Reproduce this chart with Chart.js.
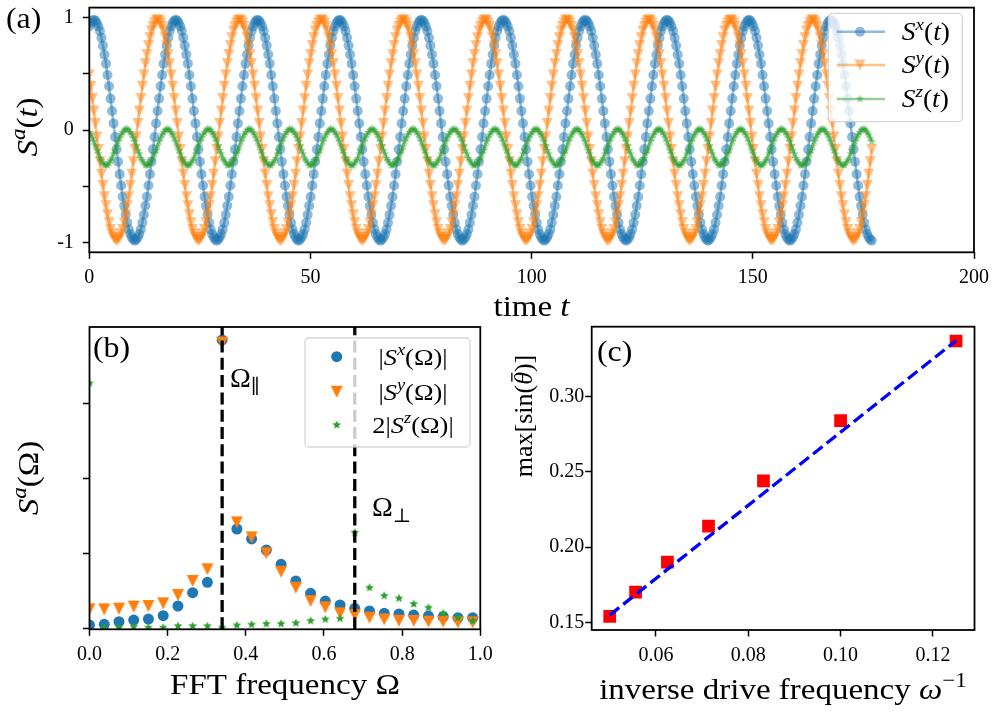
<!DOCTYPE html>
<html>
<head>
<meta charset="utf-8">
<title>Spin dynamics</title>
<script src="https://cdn.jsdelivr.net/npm/chart.js@4.4.1/dist/chart.umd.min.js"></script>
<style>
  html, body { margin: 0; padding: 0; background: #fff; }
  #fig { position: relative; width: 995px; height: 713px; }
  #fig canvas { position: absolute; left: 0; top: 0; }
</style>
</head>
<body>
<div id="fig">
  <canvas id="chartA" width="995" height="713"></canvas>
  <canvas id="chartB" width="995" height="713"></canvas>
  <canvas id="chartC" width="995" height="713"></canvas>
</div>
<script>
// (a) spin components S^a(t), one sample every DT time units
const DT = 0.3428;
const SX = [
0.92,0.95,0.97,0.98,0.97,0.95,0.92,0.88,0.82,0.75,0.67,0.59,0.49,0.39,0.28,0.17,0.06,-0.06,-0.17,-0.28,-0.39,-0.49,-0.59,-0.67,-0.75,-0.82,-0.88,-0.92,-0.95,-0.97,-0.98,-0.97,-0.95,-0.92,-0.88,-0.82,-0.75,-0.67,-0.59,-0.49,-0.39,-0.28,-0.17,-0.06,0.06,0.17,0.28,0.39,0.49,0.59,0.67,0.75,0.82,0.88,
0.92,0.95,0.97,0.98,0.97,0.95,0.92,0.88,0.82,0.75,0.67,0.59,0.49,0.39,0.28,0.17,0.06,-0.06,-0.17,-0.28,-0.39,-0.49,-0.59,-0.67,-0.75,-0.82,-0.88,-0.92,-0.95,-0.97,-0.98,-0.97,-0.95,-0.92,-0.88,-0.82,-0.75,-0.67,-0.59,-0.49,-0.39,-0.28,-0.17,-0.06,0.06,0.17,0.28,0.39,0.49,0.59,0.67,0.75,0.82,0.88,
0.92,0.95,0.97,0.98,0.97,0.95,0.92,0.88,0.82,0.75,0.67,0.59,0.49,0.39,0.28,0.17,0.06,-0.06,-0.17,-0.28,-0.39,-0.49,-0.59,-0.67,-0.75,-0.82,-0.88,-0.92,-0.95,-0.97,-0.98,-0.97,-0.95,-0.92,-0.88,-0.82,-0.75,-0.67,-0.59,-0.49,-0.39,-0.28,-0.17,-0.06,0.06,0.17,0.28,0.39,0.49,0.59,0.67,0.75,0.82,0.88,
0.92,0.95,0.97,0.98,0.97,0.95,0.92,0.88,0.82,0.75,0.67,0.59,0.49,0.39,0.28,0.17,0.06,-0.06,-0.17,-0.28,-0.39,-0.49,-0.59,-0.67,-0.75,-0.82,-0.88,-0.92,-0.95,-0.97,-0.98,-0.97,-0.95,-0.92,-0.88,-0.82,-0.75,-0.67,-0.59,-0.49,-0.39,-0.28,-0.17,-0.06,0.06,0.17,0.28,0.39,0.49,0.59,0.67,0.75,0.82,0.88,
0.92,0.95,0.97,0.98,0.97,0.95,0.92,0.88,0.82,0.75,0.67,0.59,0.49,0.39,0.28,0.17,0.06,-0.06,-0.17,-0.28,-0.39,-0.49,-0.59,-0.67,-0.75,-0.82,-0.88,-0.92,-0.95,-0.97,-0.98,-0.97,-0.95,-0.92,-0.88,-0.82,-0.75,-0.67,-0.59,-0.49,-0.39,-0.28,-0.17,-0.06,0.06,0.17,0.28,0.39,0.49,0.59,0.67,0.75,0.82,0.88,
0.92,0.95,0.97,0.98,0.97,0.95,0.92,0.88,0.82,0.75,0.67,0.59,0.49,0.39,0.28,0.17,0.06,-0.06,-0.17,-0.28,-0.39,-0.49,-0.59,-0.67,-0.75,-0.82,-0.88,-0.92,-0.95,-0.97,-0.98,-0.97,-0.95,-0.92,-0.88,-0.82,-0.75,-0.67,-0.59,-0.49,-0.39,-0.28,-0.17,-0.06,0.06,0.17,0.28,0.39,0.49,0.59,0.67,0.75,0.82,0.88,
0.92,0.95,0.97,0.98,0.97,0.95,0.92,0.88,0.82,0.75,0.67,0.59,0.49,0.39,0.28,0.17,0.06,-0.06,-0.17,-0.28,-0.39,-0.49,-0.59,-0.67,-0.75,-0.82,-0.88,-0.92,-0.95,-0.97,-0.98,-0.97,-0.95,-0.92,-0.88,-0.82,-0.75,-0.67,-0.59,-0.49,-0.39,-0.28,-0.17,-0.06,0.06,0.17,0.28,0.39,0.49,0.59,0.67,0.75,0.82,0.88,
0.92,0.95,0.97,0.98,0.97,0.95,0.92,0.88,0.82,0.75,0.67,0.59,0.49,0.39,0.28,0.17,0.06,-0.06,-0.17,-0.28,-0.39,-0.49,-0.59,-0.67,-0.75,-0.82,-0.88,-0.92,-0.95,-0.97,-0.98,-0.97,-0.95,-0.92,-0.88,-0.82,-0.75,-0.67,-0.59,-0.49,-0.39,-0.28,-0.17,-0.06,0.06,0.17,0.28,0.39,0.49,0.59,0.67,0.75,0.82,0.88,
0.92,0.95,0.97,0.98,0.97,0.95,0.92,0.88,0.82,0.75,0.67,0.59,0.49,0.39,0.28,0.17,0.06,-0.06,-0.17,-0.28,-0.39,-0.49,-0.59,-0.67,-0.75,-0.82,-0.88,-0.92,-0.95,-0.97,-0.98,-0.97,-0.95,-0.92,-0.88,-0.82,-0.75,-0.67,-0.59,-0.49,-0.39,-0.28,-0.17,-0.06,0.06,0.17,0.28,0.39,0.49,0.59,0.67,0.75,0.82,0.88,
0.92,0.95,0.97,0.98,0.97,0.95,0.92,0.88,0.82,0.75,0.67,0.59,0.49,0.39,0.28,0.17,0.06,-0.06,-0.17,-0.28,-0.39,-0.49,-0.59,-0.67,-0.75,-0.82,-0.88,-0.92,-0.95,-0.97,-0.98
];
const SY = [
0.49,0.39,0.28,0.17,0.06,-0.06,-0.17,-0.28,-0.39,-0.49,-0.59,-0.67,-0.75,-0.82,-0.88,-0.92,-0.95,-0.97,-0.98,-0.97,-0.95,-0.92,-0.88,-0.82,-0.75,-0.67,-0.59,-0.49,-0.39,-0.28,-0.17,-0.06,0.06,0.17,0.28,0.39,0.49,0.59,0.67,0.75,0.82,0.88,0.92,0.95,0.97,0.98,0.97,0.95,0.92,0.88,0.82,0.75,0.67,0.59,
0.49,0.39,0.28,0.17,0.06,-0.06,-0.17,-0.28,-0.39,-0.49,-0.59,-0.67,-0.75,-0.82,-0.88,-0.92,-0.95,-0.97,-0.98,-0.97,-0.95,-0.92,-0.88,-0.82,-0.75,-0.67,-0.59,-0.49,-0.39,-0.28,-0.17,-0.06,0.06,0.17,0.28,0.39,0.49,0.59,0.67,0.75,0.82,0.88,0.92,0.95,0.97,0.98,0.97,0.95,0.92,0.88,0.82,0.75,0.67,0.59,
0.49,0.39,0.28,0.17,0.06,-0.06,-0.17,-0.28,-0.39,-0.49,-0.59,-0.67,-0.75,-0.82,-0.88,-0.92,-0.95,-0.97,-0.98,-0.97,-0.95,-0.92,-0.88,-0.82,-0.75,-0.67,-0.59,-0.49,-0.39,-0.28,-0.17,-0.06,0.06,0.17,0.28,0.39,0.49,0.59,0.67,0.75,0.82,0.88,0.92,0.95,0.97,0.98,0.97,0.95,0.92,0.88,0.82,0.75,0.67,0.59,
0.49,0.39,0.28,0.17,0.06,-0.06,-0.17,-0.28,-0.39,-0.49,-0.59,-0.67,-0.75,-0.82,-0.88,-0.92,-0.95,-0.97,-0.98,-0.97,-0.95,-0.92,-0.88,-0.82,-0.75,-0.67,-0.59,-0.49,-0.39,-0.28,-0.17,-0.06,0.06,0.17,0.28,0.39,0.49,0.59,0.67,0.75,0.82,0.88,0.92,0.95,0.97,0.98,0.97,0.95,0.92,0.88,0.82,0.75,0.67,0.59,
0.49,0.39,0.28,0.17,0.06,-0.06,-0.17,-0.28,-0.39,-0.49,-0.59,-0.67,-0.75,-0.82,-0.88,-0.92,-0.95,-0.97,-0.98,-0.97,-0.95,-0.92,-0.88,-0.82,-0.75,-0.67,-0.59,-0.49,-0.39,-0.28,-0.17,-0.06,0.06,0.17,0.28,0.39,0.49,0.59,0.67,0.75,0.82,0.88,0.92,0.95,0.97,0.98,0.97,0.95,0.92,0.88,0.82,0.75,0.67,0.59,
0.49,0.39,0.28,0.17,0.06,-0.06,-0.17,-0.28,-0.39,-0.49,-0.59,-0.67,-0.75,-0.82,-0.88,-0.92,-0.95,-0.97,-0.98,-0.97,-0.95,-0.92,-0.88,-0.82,-0.75,-0.67,-0.59,-0.49,-0.39,-0.28,-0.17,-0.06,0.06,0.17,0.28,0.39,0.49,0.59,0.67,0.75,0.82,0.88,0.92,0.95,0.97,0.98,0.97,0.95,0.92,0.88,0.82,0.75,0.67,0.59,
0.49,0.39,0.28,0.17,0.06,-0.06,-0.17,-0.28,-0.39,-0.49,-0.59,-0.67,-0.75,-0.82,-0.88,-0.92,-0.95,-0.97,-0.98,-0.97,-0.95,-0.92,-0.88,-0.82,-0.75,-0.67,-0.59,-0.49,-0.39,-0.28,-0.17,-0.06,0.06,0.17,0.28,0.39,0.49,0.59,0.67,0.75,0.82,0.88,0.92,0.95,0.97,0.98,0.97,0.95,0.92,0.88,0.82,0.75,0.67,0.59,
0.49,0.39,0.28,0.17,0.06,-0.06,-0.17,-0.28,-0.39,-0.49,-0.59,-0.67,-0.75,-0.82,-0.88,-0.92,-0.95,-0.97,-0.98,-0.97,-0.95,-0.92,-0.88,-0.82,-0.75,-0.67,-0.59,-0.49,-0.39,-0.28,-0.17,-0.06,0.06,0.17,0.28,0.39,0.49,0.59,0.67,0.75,0.82,0.88,0.92,0.95,0.97,0.98,0.97,0.95,0.92,0.88,0.82,0.75,0.67,0.59,
0.49,0.39,0.28,0.17,0.06,-0.06,-0.17,-0.28,-0.39,-0.49,-0.59,-0.67,-0.75,-0.82,-0.88,-0.92,-0.95,-0.97,-0.98,-0.97,-0.95,-0.92,-0.88,-0.82,-0.75,-0.67,-0.59,-0.49,-0.39,-0.28,-0.17,-0.06,0.06,0.17,0.28,0.39,0.49,0.59,0.67,0.75,0.82,0.88,0.92,0.95,0.97,0.98,0.97,0.95,0.92,0.88,0.82,0.75,0.67,0.59,
0.49,0.39,0.28,0.17,0.06,-0.06,-0.17,-0.28,-0.39,-0.49,-0.59,-0.67,-0.75,-0.82,-0.88,-0.92,-0.95,-0.97,-0.98,-0.97,-0.95,-0.92,-0.88,-0.82,-0.75,-0.67,-0.59,-0.49,-0.39,-0.28,-0.17
];
const SZ = [
-0.02,-0.04,-0.07,-0.10,-0.14,-0.18,-0.21,-0.25,-0.27,-0.29,-0.31,-0.31,-0.31,-0.29,-0.27,-0.25,-0.21,-0.18,-0.14,-0.10,-0.07,-0.04,-0.02,0.00,0.01,0.01,0.00,-0.02,-0.04,-0.07,-0.10,-0.14,-0.18,-0.21,-0.25,-0.27,-0.29,-0.31,-0.31,-0.31,-0.29,-0.27,-0.25,-0.21,-0.18,-0.14,-0.10,-0.07,-0.04,-0.02,0.00,0.01,0.01,0.00,
-0.02,-0.04,-0.07,-0.10,-0.14,-0.18,-0.21,-0.25,-0.27,-0.29,-0.31,-0.31,-0.31,-0.29,-0.27,-0.25,-0.21,-0.18,-0.14,-0.10,-0.07,-0.04,-0.02,0.00,0.01,0.01,0.00,-0.02,-0.04,-0.07,-0.10,-0.14,-0.18,-0.21,-0.25,-0.27,-0.29,-0.31,-0.31,-0.31,-0.29,-0.27,-0.25,-0.21,-0.18,-0.14,-0.10,-0.07,-0.04,-0.02,0.00,0.01,0.01,0.00,
-0.02,-0.04,-0.07,-0.10,-0.14,-0.18,-0.21,-0.25,-0.27,-0.29,-0.31,-0.31,-0.31,-0.29,-0.27,-0.25,-0.21,-0.18,-0.14,-0.10,-0.07,-0.04,-0.02,0.00,0.01,0.01,0.00,-0.02,-0.04,-0.07,-0.10,-0.14,-0.18,-0.21,-0.25,-0.27,-0.29,-0.31,-0.31,-0.31,-0.29,-0.27,-0.25,-0.21,-0.18,-0.14,-0.10,-0.07,-0.04,-0.02,0.00,0.01,0.01,0.00,
-0.02,-0.04,-0.07,-0.10,-0.14,-0.18,-0.21,-0.25,-0.27,-0.29,-0.31,-0.31,-0.31,-0.29,-0.27,-0.25,-0.21,-0.18,-0.14,-0.10,-0.07,-0.04,-0.02,0.00,0.01,0.01,0.00,-0.02,-0.04,-0.07,-0.10,-0.14,-0.18,-0.21,-0.25,-0.27,-0.29,-0.31,-0.31,-0.31,-0.29,-0.27,-0.25,-0.21,-0.18,-0.14,-0.10,-0.07,-0.04,-0.02,0.00,0.01,0.01,0.00,
-0.02,-0.04,-0.07,-0.10,-0.14,-0.18,-0.21,-0.25,-0.27,-0.29,-0.31,-0.31,-0.31,-0.29,-0.27,-0.25,-0.21,-0.18,-0.14,-0.10,-0.07,-0.04,-0.02,0.00,0.01,0.01,0.00,-0.02,-0.04,-0.07,-0.10,-0.14,-0.18,-0.21,-0.25,-0.27,-0.29,-0.31,-0.31,-0.31,-0.29,-0.27,-0.25,-0.21,-0.18,-0.14,-0.10,-0.07,-0.04,-0.02,0.00,0.01,0.01,0.00,
-0.02,-0.04,-0.07,-0.10,-0.14,-0.18,-0.21,-0.25,-0.27,-0.29,-0.31,-0.31,-0.31,-0.29,-0.27,-0.25,-0.21,-0.18,-0.14,-0.10,-0.07,-0.04,-0.02,0.00,0.01,0.01,0.00,-0.02,-0.04,-0.07,-0.10,-0.14,-0.18,-0.21,-0.25,-0.27,-0.29,-0.31,-0.31,-0.31,-0.29,-0.27,-0.25,-0.21,-0.18,-0.14,-0.10,-0.07,-0.04,-0.02,0.00,0.01,0.01,0.00,
-0.02,-0.04,-0.07,-0.10,-0.14,-0.18,-0.21,-0.25,-0.27,-0.29,-0.31,-0.31,-0.31,-0.29,-0.27,-0.25,-0.21,-0.18,-0.14,-0.10,-0.07,-0.04,-0.02,0.00,0.01,0.01,0.00,-0.02,-0.04,-0.07,-0.10,-0.14,-0.18,-0.21,-0.25,-0.27,-0.29,-0.31,-0.31,-0.31,-0.29,-0.27,-0.25,-0.21,-0.18,-0.14,-0.10,-0.07,-0.04,-0.02,0.00,0.01,0.01,0.00,
-0.02,-0.04,-0.07,-0.10,-0.14,-0.18,-0.21,-0.25,-0.27,-0.29,-0.31,-0.31,-0.31,-0.29,-0.27,-0.25,-0.21,-0.18,-0.14,-0.10,-0.07,-0.04,-0.02,0.00,0.01,0.01,0.00,-0.02,-0.04,-0.07,-0.10,-0.14,-0.18,-0.21,-0.25,-0.27,-0.29,-0.31,-0.31,-0.31,-0.29,-0.27,-0.25,-0.21,-0.18,-0.14,-0.10,-0.07,-0.04,-0.02,0.00,0.01,0.01,0.00,
-0.02,-0.04,-0.07,-0.10,-0.14,-0.18,-0.21,-0.25,-0.27,-0.29,-0.31,-0.31,-0.31,-0.29,-0.27,-0.25,-0.21,-0.18,-0.14,-0.10,-0.07,-0.04,-0.02,0.00,0.01,0.01,0.00,-0.02,-0.04,-0.07,-0.10,-0.14,-0.18,-0.21,-0.25,-0.27,-0.29,-0.31,-0.31,-0.31,-0.29,-0.27,-0.25,-0.21,-0.18,-0.14,-0.10,-0.07,-0.04,-0.02,0.00,0.01,0.01,0.00,
-0.02,-0.04,-0.07,-0.10,-0.14,-0.18,-0.21,-0.25,-0.27,-0.29,-0.31,-0.31,-0.31,-0.29,-0.27,-0.25,-0.21,-0.18,-0.14,-0.10,-0.07,-0.04,-0.02,0.00,0.01,0.01,0.00,
-0.02,-0.04,-0.07,-0.10
];
const A_XTICKS = [0, 50, 100, 150, 200];
const A_XLABELS = ['0', '50', '100', '150', '200'];
const A_YTICKS = [-1, -0.5, 0, 0.5, 1];
const A_YLABELS = ['-1', '', '0', '', '1'];

// (b) FFT of the three components
const FREQ = [0, 0.0377, 0.0754, 0.1131, 0.1508, 0.1886, 0.2263, 0.264, 0.3017, 0.3394, 0.3771, 0.4148, 0.4525, 0.4902,
  0.528, 0.5657, 0.6034, 0.6411, 0.6788, 0.7165, 0.7542, 0.7919, 0.8296, 0.8673, 0.905, 0.9428, 0.9805];
const FFT_X = [0.044, 0.053, 0.089, 0.11, 0.124, 0.168, 0.297, 0.475, 0.613, 3.844, 1.324, 1.191, 1.044, 0.853,
  0.631, 0.467, 0.364, 0.311, 0.267, 0.231, 0.2, 0.191, 0.177, 0.164, 0.155, 0.141, 0.141];
const FFT_Y = [0.253, 0.253, 0.262, 0.289, 0.297, 0.333, 0.444, 0.631, 0.787, 3.808, 1.413, 1.213, 1.0, 0.755,
  0.542, 0.364, 0.28, 0.2, 0.177, 0.141, 0.12, 0.102, 0.1, 0.089, 0.089, 0.08, 0.08];
const FFT_Z2 = [3.267, 0.01, 0.01, 0.02, 0.01, 0.01, 0.03, 0.03, 0.03, 0.01, 0.04, 0.05, 0.06, 0.06,
  0.07, 0.1, 0.12, 0.13, 1.276, 0.542, 0.435, 0.4, 0.324, 0.275, 0.2, 0.141, 0.098];
const OMEGA_PAR = 0.3394;
const OMEGA_PERP = 0.6788;
const B_XTICKS = [0, 0.2, 0.4, 0.6, 0.8, 1.0];
const B_XLABELS = ['0.0', '0.2', '0.4', '0.6', '0.8', '1.0'];
const B_YTICKS = [0, 1, 2, 3];

// (c) max[sin(theta)] against inverse drive frequency, with linear fit
const INV_OMEGA = [0.05, 0.0556, 0.0625, 0.0714, 0.0833, 0.1, 0.125];
const MAX_SIN = [0.154, 0.170, 0.190, 0.214, 0.244, 0.284, 0.337];
const FIT_X = [0.05, 0.125];
const FIT_Y = [0.1548, 0.3372];
const C_XTICKS = [0.06, 0.08, 0.10, 0.12];
const C_XLABELS = ['0.06', '0.08', '0.10', '0.12'];
const C_YTICKS = [0.15, 0.20, 0.25, 0.30];
const C_YLABELS = ['0.15', '0.20', '0.25', '0.30'];

const SERIF = '"Liberation Serif", "DejaVu Serif", serif';
Chart.defaults.font.family = SERIF;
Chart.defaults.color = '#000';

const BLUE = '#1f77b4', ORANGE = '#ff7f0e', GREEN = '#2ca02c';
const BLUE_A = 'rgba(31,119,180,0.5)', ORANGE_A = 'rgba(255,127,14,0.5)', GREEN_A = 'rgba(44,160,44,0.5)';

// marker pictures for the matplotlib-like 'v' and '*' markers
function markerCanvas(size, draw) {
  const c = document.createElement('canvas');
  c.width = c.height = Math.ceil(size);
  draw(c.getContext('2d'), c.width / 2);
  return c;
}
const triDown = (s, color) => markerCanvas(s + 2, (g, c) => {
  const h = s / 2;
  g.fillStyle = color;
  g.beginPath();
  g.moveTo(c - h, c - h); g.lineTo(c + h, c - h); g.lineTo(c, c + h);
  g.closePath(); g.fill();
});
const starMark = (r, color) => markerCanvas(2 * r + 2, (g, c) => {
  g.fillStyle = color;
  g.beginPath();
  for (let k = 0; k < 10; k++) {
    const rr = k % 2 ? r * 0.45 : r, a = -Math.PI / 2 + k * Math.PI / 5;
    g.lineTo(c + rr * Math.cos(a), c + rr * Math.sin(a));
  }
  g.closePath(); g.fill();
});

// text with italics, superscripts, subscripts: parts = [[text, flags]]
// sx widens the Times-like glyphs a little towards the LaTeX look
function drawRich(ctx, parts, x, y, size, opt = {}) {
  ctx.save();
  ctx.translate(x, y);
  if (opt.rot) ctx.rotate(opt.rot);
  ctx.scale(opt.sx ?? 1.1, 1);
  ctx.textBaseline = 'alphabetic';
  ctx.textAlign = 'left';
  ctx.fillStyle = '#000';
  const fontOf = f => (f.includes('i') ? 'italic ' : '') + (/[ud]/.test(f) ? size * 0.7 : size) + 'px ' + SERIF;
  const ws = parts.map(p => { ctx.font = fontOf(p[1]); return ctx.measureText(p[0]).width; });
  const w = ws.reduce((a, b) => a + b, 0);
  let cx = opt.align === 'left' ? 0 : -w / 2;
  parts.forEach((p, i) => {
    ctx.font = fontOf(p[1]);
    const dy = p[1].includes('u') ? -0.4 * size : p[1].includes('d') ? 0.22 * size : 0;
    ctx.fillText(p[0], cx, dy);
    if (p[1].includes('b')) ctx.fillRect(cx + ws[i] * 0.25, dy - 0.8 * size, ws[i] * 0.7, size * 0.05);
    cx += ws[i];
  });
  ctx.restore();
}

function drawFrame(chart) {
  const { ctx, chartArea: a } = chart;
  ctx.save();
  ctx.strokeStyle = '#000';
  ctx.lineWidth = 1.8;
  ctx.strokeRect(a.left, a.top, a.width, a.height);
  ctx.restore();
}

function legendBox(ctx, x0, y0, x1, y1) {
  ctx.save();
  ctx.beginPath();
  ctx.roundRect(x0, y0, x1 - x0, y1 - y0, 4);
  ctx.fillStyle = 'rgba(255,255,255,0.8)';
  ctx.fill();
  ctx.strokeStyle = 'rgba(204,204,204,0.8)';
  ctx.lineWidth = 1.3;
  ctx.stroke();
  ctx.restore();
}

function drawMarker(ctx, m, x, y) {
  if (m.img) {
    ctx.drawImage(m.img, x - m.img.width / 2, y - m.img.height / 2);
  } else {
    ctx.beginPath();
    ctx.arc(x, y, m.r, 0, 2 * Math.PI);
    ctx.fillStyle = m.color;
    ctx.fill();
  }
}

const xy = (xs, ys) => ys.map((y, i) => ({ x: xs[i], y }));
const series = ys => ys.map((y, i) => ({ x: i * DT, y }));

function axis(pos, min, max, ticks, labels, pad) {
  return {
    type: 'linear', position: pos, min, max,
    afterBuildTicks: s => { s.ticks = ticks.map(v => ({ value: v })); },
    afterFit: s => {
      if (pos === 'bottom') s.height = 60; else s.width = 60;
      s.paddingLeft = s.paddingRight = s.paddingTop = s.paddingBottom = 0;
    },
    ticks: {
      callback: (v, i) => (labels ? labels[i] : ''),
      padding: pad, autoSkip: false, maxRotation: 0, color: '#000',
      font: { size: 20, family: SERIF },
    },
    grid: { drawOnChartArea: false, drawTicks: true, tickLength: 6.5, tickWidth: 1.5, tickColor: '#000' },
    border: { display: false },
  };
}

function opts(padding, x, y) {
  return {
    responsive: false, animation: false, devicePixelRatio: 1, events: [],
    layout: { padding },
    plugins: { legend: { display: false }, tooltip: { enabled: false } },
    scales: { x, y },
  };
}

// ---------- (a) ----------
const markA = [
  { r: 5, color: BLUE_A },
  { img: triDown(11, ORANGE_A) },
  { img: starMark(4.4, GREEN_A) },
];
const legendA = [
  { color: BLUE_A, mark: markA[0], label: [['S', 'i'], ['x', 'iu'], ['(', ''], ['t', 'i'], [')', '']] },
  { color: ORANGE_A, mark: markA[1], label: [['S', 'i'], ['y', 'iu'], ['(', ''], ['t', 'i'], [')', '']] },
  { color: GREEN_A, mark: markA[2], label: [['S', 'i'], ['z', 'iu'], ['(', ''], ['t', 'i'], [')', '']] },
];

new Chart(document.getElementById('chartA'), {
  type: 'line',
  data: {
    datasets: [
      { data: series(SX), borderColor: BLUE_A, borderWidth: 2.6, pointStyle: 'circle', pointRadius: 5,
        pointBackgroundColor: BLUE_A, pointBorderWidth: 0, clip: 0, order: 3 },
      { data: series(SY), borderColor: ORANGE_A, borderWidth: 2.6, pointStyle: markA[1].img, pointRadius: 5,
        clip: 0, order: 2 },
      { data: series(SZ), borderColor: GREEN_A, borderWidth: 2.6, pointStyle: markA[2].img, pointRadius: 4,
        clip: 0, order: 1 },
    ],
  },
  options: opts({ left: 29.3, right: 21, top: 1.7, bottom: 400.7 },
    axis('bottom', 0, 200, A_XTICKS, A_XLABELS, 7),
    axis('left', -1.083, 1.087, A_YTICKS, A_YLABELS, 9)),
  plugins: [{
    id: 'decorA',
    afterDatasetsDraw: drawFrame,
    afterDraw(chart) {
      const ctx = chart.ctx;
      drawRich(ctx, [['(a)', '']], 6, 28, 29, { align: 'left' });
      drawRich(ctx, [['S', 'i'], ['a', 'iu'], ['(', ''], ['t', 'i'], [')', '']], 37, 127, 30, { rot: -Math.PI / 2 });
      drawRich(ctx, [['time ', ''], ['t', 'i']], 531.5, 316, 30);
      legendBox(ctx, 828.3, 13.3, 962.3, 121.7);
      [31.7, 65, 99].forEach((y, i) => {
        const e = legendA[i];
        ctx.save();
        ctx.strokeStyle = e.color;
        ctx.lineWidth = 2.6;
        ctx.beginPath(); ctx.moveTo(836.7, y); ctx.lineTo(885, y); ctx.stroke();
        ctx.restore();
        drawMarker(ctx, e.mark, 860, y);
        drawRich(ctx, e.label, 901.7, y + 8, 25, { align: 'left' });
      });
    },
  }],
});

// ---------- (b) ----------
const B_YMIN = -0.013, B_YMAX = 4.017;
const markB = [
  { r: 5.5, color: BLUE },
  { img: triDown(12, ORANGE) },
  { img: starMark(4.6, GREEN) },
];
const legendB = [
  [['|', ''], ['S', 'i'], ['x', 'iu'], ['(Ω)|', '']],
  [['|', ''], ['S', 'i'], ['y', 'iu'], ['(Ω)|', '']],
  [['2|', ''], ['S', 'i'], ['z', 'iu'], ['(Ω)|', '']],
];
const vline = x => ({
  type: 'line', data: [{ x, y: B_YMIN }, { x, y: B_YMAX }], showLine: true,
  borderColor: '#000', borderWidth: 3.3, borderDash: [12, 5.3], pointRadius: 0, clip: 0, order: 0,
});

new Chart(document.getElementById('chartB'), {
  type: 'scatter',
  data: {
    datasets: [
      { data: xy(FREQ, FFT_X), pointStyle: 'circle', pointRadius: 5.5, pointBackgroundColor: BLUE,
        pointBorderWidth: 0, clip: 0, order: 4 },
      { data: xy(FREQ, FFT_Y), pointStyle: markB[1].img, pointRadius: 6, clip: 0, order: 3 },
      { data: xy(FREQ, FFT_Z2), pointStyle: markB[2].img, pointRadius: 4, clip: 0, order: 2 },
      vline(OMEGA_PAR),
      vline(OMEGA_PERP),
    ],
  },
  options: opts({ left: 29.5, right: 514.7, top: 327, bottom: 23.7 },
    axis('bottom', 0, 1, B_XTICKS, B_XLABELS, 7),
    axis('left', B_YMIN, B_YMAX, B_YTICKS, null, 9)),
  plugins: [{
    id: 'decorB',
    afterDatasetsDraw: drawFrame,
    afterDraw(chart) {
      const ctx = chart.ctx;
      drawRich(ctx, [['(b)', '']], 93, 357, 29, { align: 'left' });
      drawRich(ctx, [['Ω', ''], ['∥', 'd']], 230, 387, 28, { align: 'left', sx: 1 });
      drawRich(ctx, [['Ω', ''], ['⊥', 'd']], 372, 516, 28, { align: 'left', sx: 1 });
      drawRich(ctx, [['S', 'i'], ['a', 'iu'], ['(Ω)', '']], 38, 478, 30, { rot: -Math.PI / 2 });
      drawRich(ctx, [['FFT frequency Ω', '']], 285, 694, 30);
      legendBox(ctx, 305, 338, 470, 447);
      [356.7, 391.7, 425].forEach((y, i) => {
        drawMarker(ctx, markB[i], 336.7, y);
        drawRich(ctx, legendB[i], 413, y + 8, 24);
      });
    },
  }],
});

// ---------- (c) ----------
new Chart(document.getElementById('chartC'), {
  type: 'scatter',
  data: {
    datasets: [
      { data: xy(INV_OMEGA, MAX_SIN), pointStyle: 'rect', pointRadius: 9, pointBackgroundColor: '#ff0000',
        pointBorderWidth: 0, order: 1 },
      { type: 'line', data: xy(FIT_X, FIT_Y), showLine: true, borderColor: '#0000ff', borderWidth: 3.3,
        borderDash: [12, 5.3], pointRadius: 0, order: 0 },
    ],
  },
  options: opts({ left: 531.7, right: 20.5, top: 326.7, bottom: 23 },
    axis('bottom', 0.0461, 0.129, C_XTICKS, C_XLABELS, 7),
    axis('left', 0.1449, 0.3465, C_YTICKS, C_YLABELS, 1)),
  plugins: [{
    id: 'decorC',
    afterDatasetsDraw: drawFrame,
    afterDraw(chart) {
      const ctx = chart.ctx;
      drawRich(ctx, [['(c)', '']], 597, 361, 29, { align: 'left' });
      drawRich(ctx, [['max[sin(', ''], ['θ', 'ib'], [')]', '']], 532, 416, 26, { rot: -Math.PI / 2, sx: 1 });
      drawRich(ctx, [['inverse drive frequency ', ''], ['ω', 'i'], ['−1', 'u']], 783, 699, 30);
    },
  }],
});
</script>
</body>
</html>
